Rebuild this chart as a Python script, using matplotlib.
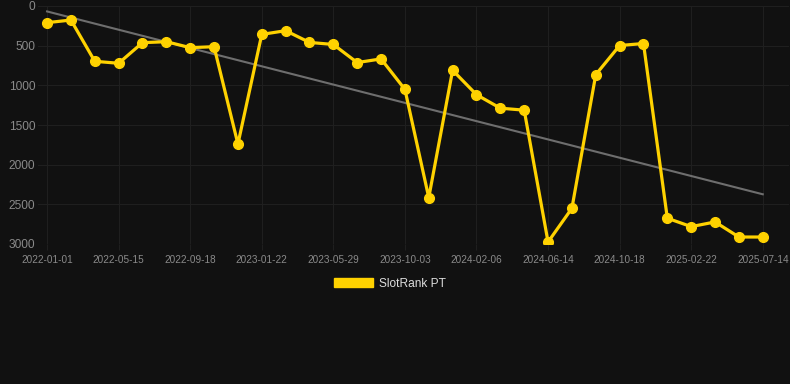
import matplotlib.pyplot as plt
from matplotlib.patches import Patch
import numpy as np

# ranking values, one per sample (lower is better, axis inverted)
ranks = [210, 177, 697, 722, 462, 450, 525, 513, 1740, 358, 311, 459, 485, 713, 667,
         1051, 2415, 810, 1118, 1288, 1313, 2975, 2550, 865, 498, 473, 2675, 2781, 2722,
         2912, 2912]
tick_labels = ["2022-01-01", "2022-05-15", "2022-09-18", "2023-01-22", "2023-05-29",
               "2023-10-03", "2024-02-06", "2024-06-14", "2024-10-18", "2025-02-22",
               "2025-07-14"]
y_ticks = [0, 500, 1000, 1500, 2000, 2500, 3000]

bg = "#111111"
grid_c = "#1f1f1f"
yellow = "#FFD200"

x = np.arange(len(ranks))

fig = plt.figure(figsize=(7.9, 3.84), dpi=100, facecolor=bg)
ax = fig.add_axes([38 / 790, 1 - 244 / 384, 751 / 790, 238 / 384], facecolor=bg)

# trend line
k, b = np.polyfit(x, ranks, 1)
ax.plot(x, k * x + b, color="#6e6e6e", lw=1.5, zorder=2)

ax.plot(x, ranks, color=yellow, lw=2.3, marker="o", markersize=7, zorder=3)

ax.set_xlim(-0.38, 31.1)
ax.set_ylim(3000, 0)
ax.set_xticks(x[::3])
ax.set_xticklabels(tick_labels)
ax.set_yticks(y_ticks)
ax.set_yticklabels([str(v) for v in y_ticks])

ax.grid(True, color=grid_c, lw=0.8)
ax.set_axisbelow(True)
for s in ax.spines.values():
    s.set_visible(False)
ax.tick_params(axis="x", colors=grid_c, length=4, pad=4, labelcolor="#8a8a8a",
               labelsize=7.2)
ax.tick_params(axis="y", length=0, pad=2, labelcolor="#8a8a8a", labelsize=8.6)
for lab in ax.get_xticklabels() + ax.get_yticklabels():
    lab.set_family("Liberation Sans")

fig.legend(handles=[Patch(facecolor=yellow, edgecolor=yellow, label="SlotRank PT")],
           loc="center", bbox_to_anchor=(390 / 790, 1 - 284 / 384), frameon=False,
           handlelength=3.25, handleheight=0.8, handletextpad=0.5,
           prop={"family": "Liberation Sans", "size": 8.6}, labelcolor="#dddddd")

plt.savefig("out.png", facecolor=bg)
